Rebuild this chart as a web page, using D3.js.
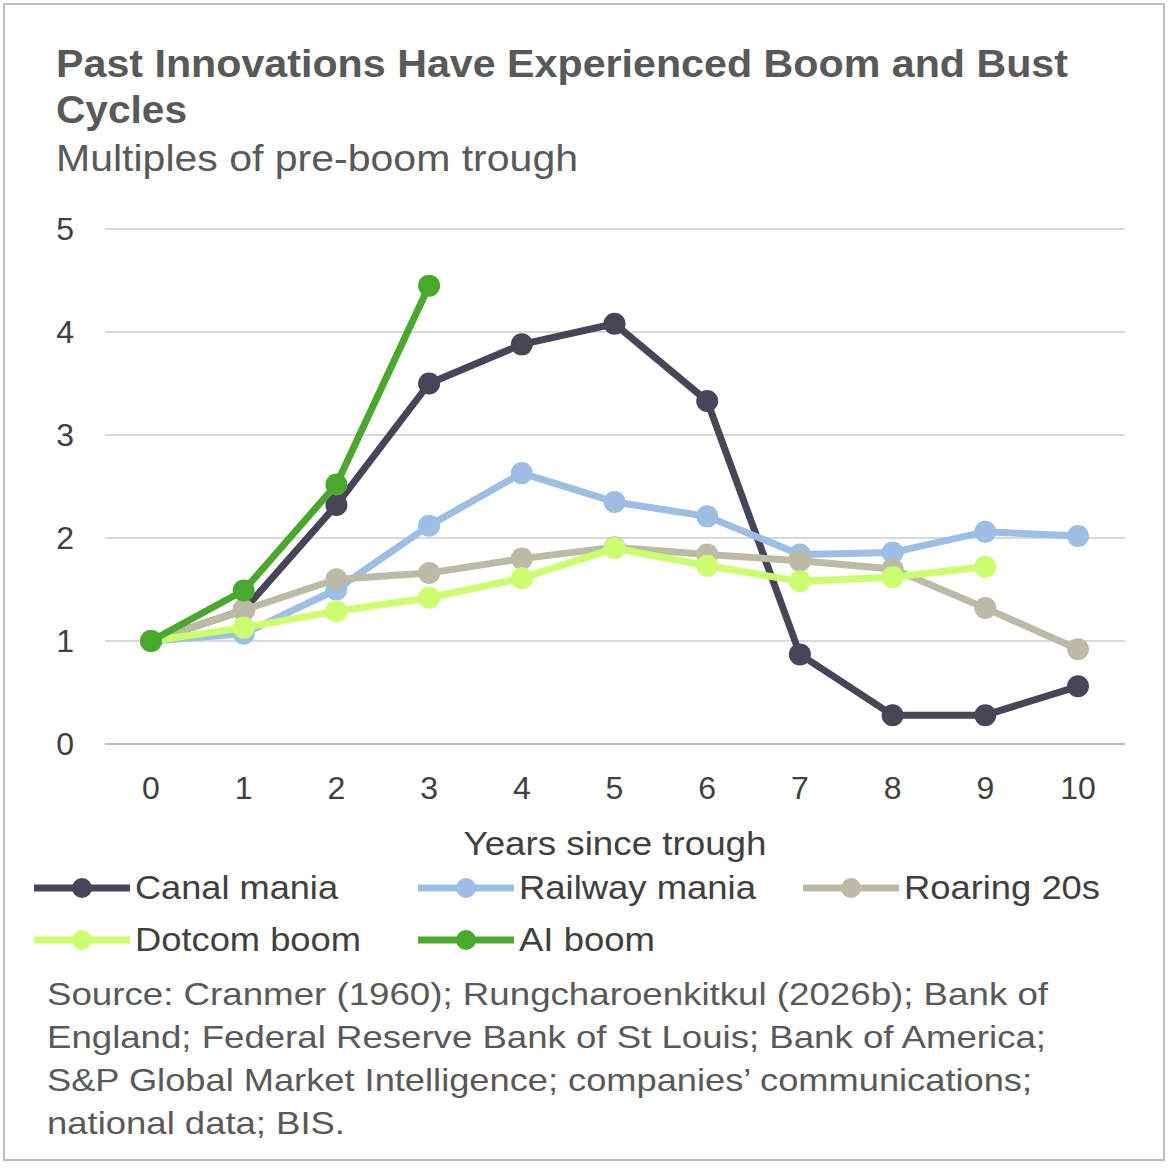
<!DOCTYPE html><html><head><meta charset="utf-8"><script src="https://cdn.jsdelivr.net/npm/d3@7"></script>
<style>body{margin:0;background:#fff}text{font-family:"Liberation Sans",Arial,sans-serif}</style></head><body>
<svg id="c" width="1168" height="1168"></svg>
<script>
const years=[0,1,2,3,4,5,6,7,8,9,10];
const canal=[1,1.3,2.32,3.5,3.88,4.08,3.33,0.87,0.28,0.28,0.56];
const railway=[1,1.07,1.5,2.12,2.63,2.35,2.21,1.84,1.86,2.06,2.02];
const roaring=[1,1.3,1.6,1.66,1.8,1.91,1.84,1.78,1.7,1.32,0.92];
const dotcom=[1,1.13,1.29,1.42,1.61,1.9,1.73,1.58,1.62,1.72];
const ai=[1,1.49,2.52,4.45];
const yTicks=[0,1,2,3,4,5];
const series=[
 {name:"Canal mania",v:canal,c:"#474659"},
 {name:"Railway mania",v:railway,c:"#9dbfe6"},
 {name:"Roaring 20s",v:roaring,c:"#bdbba6"},
 {name:"Dotcom boom",v:dotcom,c:"#ccff70"},
 {name:"AI boom",v:ai,c:"#4aa82e"}];
const svg=d3.select("#c");
function txt(xp,yp,size,t,opts={}){
 const e=svg.append("text").attr("x",xp).attr("y",yp).attr("font-size",size).attr("fill",opts.fill||"#404040").text(t);
 if(opts.bold)e.attr("font-weight","bold");
 if(opts.anchor)e.attr("text-anchor",opts.anchor);
 if(opts.len)e.attr("textLength",opts.len).attr("lengthAdjust","spacingAndGlyphs");
 return e;}
svg.append("rect").attr("x",4).attr("y",4).attr("width",1160).attr("height",1156).attr("fill","none").attr("stroke","#bfbfbf").attr("stroke-width",2);
const x=d3.scaleLinear().domain([0,10]).range([151,1078]);
const y=d3.scaleLinear().domain([0,5]).range([744,229]);
txt(56,77,38,"Past Innovations Have Experienced Boom and Bust",{bold:1,fill:"#595959",len:1012});
txt(56,123,38,"Cycles",{bold:1,fill:"#595959",len:131});
txt(56,171,36,"Multiples of pre-boom trough",{fill:"#595959",len:522});
yTicks.forEach(t=>{
 svg.append("line").attr("x1",105).attr("x2",1125).attr("y1",y(t)).attr("y2",y(t)).attr("stroke",t===0?"#bfbfbf":"#d9d9d9").attr("stroke-width",2);
 txt(74,y(t)+11,32,t,{anchor:"end"});
});
years.forEach(t=>txt(x(t),799,32,t,{anchor:"middle"}));
txt(615,855,34,"Years since trough",{anchor:"middle",len:303});
const line=d3.line().x((d,i)=>x(i)).y(d=>y(d));
series.forEach(s=>{
 const g=svg.append("g");
 g.append("path").attr("d",line(s.v)).attr("fill","none").attr("stroke",s.c).attr("stroke-width",7).attr("stroke-linejoin","round");
 g.selectAll("circle").data(s.v).join("circle").attr("cx",(d,i)=>x(i)).attr("cy",d=>y(d)).attr("r",11).attr("fill",s.c);
});
const leg=[[34,888],[418,888],[803,888],[34,940],[418,940]];
const legLen=[203,237,196,226,136];
series.forEach((s,i)=>{
 const [lx,ly]=leg[i];
 svg.append("line").attr("x1",lx).attr("x2",lx+96).attr("y1",ly).attr("y2",ly).attr("stroke",s.c).attr("stroke-width",7);
 svg.append("circle").attr("cx",lx+48).attr("cy",ly).attr("r",10).attr("fill",s.c);
 txt(lx+101,ly+11,33,s.name,{len:legLen[i]});
});
const src=["Source: Cranmer (1960); Rungcharoenkitkul (2026b); Bank of","England; Federal Reserve Bank of St Louis; Bank of America;","S&P Global Market Intelligence; companies’ communications;","national data; BIS."];
const srcLen=[1001,999,985,298];
src.forEach((t,i)=>txt(47,1005+i*43,32,t,{fill:"#595959",len:srcLen[i]}));
</script></body></html>
